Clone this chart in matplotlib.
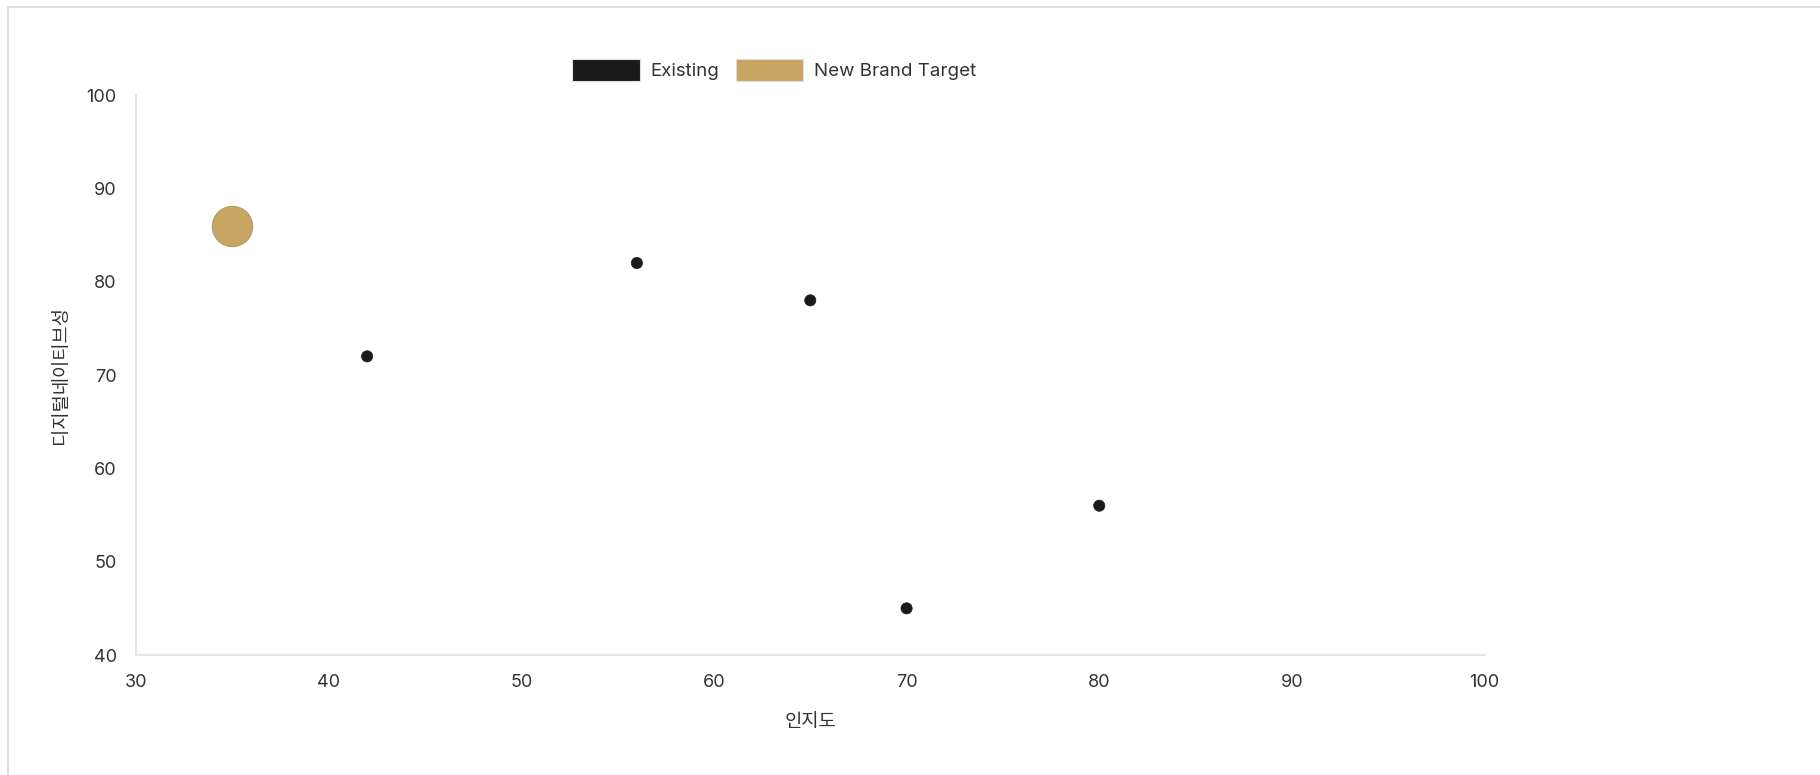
import matplotlib
matplotlib.use('Agg')
import matplotlib.pyplot as plt
from matplotlib.patches import Patch, Rectangle

plt.rcParams['font.family'] = ['Inter', 'Noto Sans CJK KR', 'DejaVu Sans']

# brand positions: awareness (x) vs digital-native score (y)
existing_x = [42, 56, 65, 70, 80]
existing_y = [72, 82, 78, 45, 56]
existing_r = [5, 5, 5, 5, 5]

target_x = [35]
target_y = [86]
target_r = [18]

x_ticks = [30, 40, 50, 60, 70, 80, 90, 100]
y_ticks = [40, 50, 60, 70, 80, 90, 100]

dark = '#1a1a1a'
gold = '#c8a560'
grid_col = '#e2e2e2'
text_col = '#333333'

fig = plt.figure(figsize=(18.2, 7.75), dpi=100)
# card outline
fig.patches.append(Rectangle((7.5/1820, -0.1), 1.2, 1.1 - 7/775, transform=fig.transFigure,
                             fill=False, edgecolor='#e0e0e0', linewidth=1.5))

ax = fig.add_axes([0.0747, 0.1548, 0.7410, 0.7226])

# marker area in pt^2 from radius in px
def area(r):
    return [(2 * v * 72 / 100 * 1.12) ** 2 for v in r]

ax.scatter(existing_x, existing_y, s=area(existing_r), color=dark, edgecolor=dark,
           linewidth=0.5, zorder=3)
ax.scatter(target_x, target_y, s=area(target_r), color=gold, edgecolor='#b39a6a',
           linewidth=0.8, zorder=3)

ax.set_xlim(30, 100)
ax.set_ylim(40, 100)
ax.set_xticks(x_ticks)
ax.set_yticks(y_ticks)
ax.tick_params(length=0, labelsize=13, colors=text_col, pad=14)
for side in ['top', 'right']:
    ax.spines[side].set_visible(False)
for side in ['left', 'bottom']:
    ax.spines[side].set_color(grid_col)
    ax.spines[side].set_linewidth(1.2)

ax.set_xlabel('인지도', fontsize=13.5, color=text_col, labelpad=16)
ax.set_ylabel('디지털네이티브성', fontsize=13.5, color=text_col, labelpad=12)

handles = [Patch(facecolor=dark, edgecolor='#dddddd', linewidth=0.8, label='Existing'),
           Patch(facecolor=gold, edgecolor='#dddddd', linewidth=0.8, label='New Brand Target')]
fig.legend(handles=handles, loc='center', bbox_to_anchor=(774/1820, 1 - 70/775),
           ncol=2, frameon=False, fontsize=13.5, handlelength=3.6, handleheight=1.35,
           handletextpad=0.55, columnspacing=0.9, labelcolor=text_col)

fig.savefig('out.png', dpi=100, facecolor='white')
